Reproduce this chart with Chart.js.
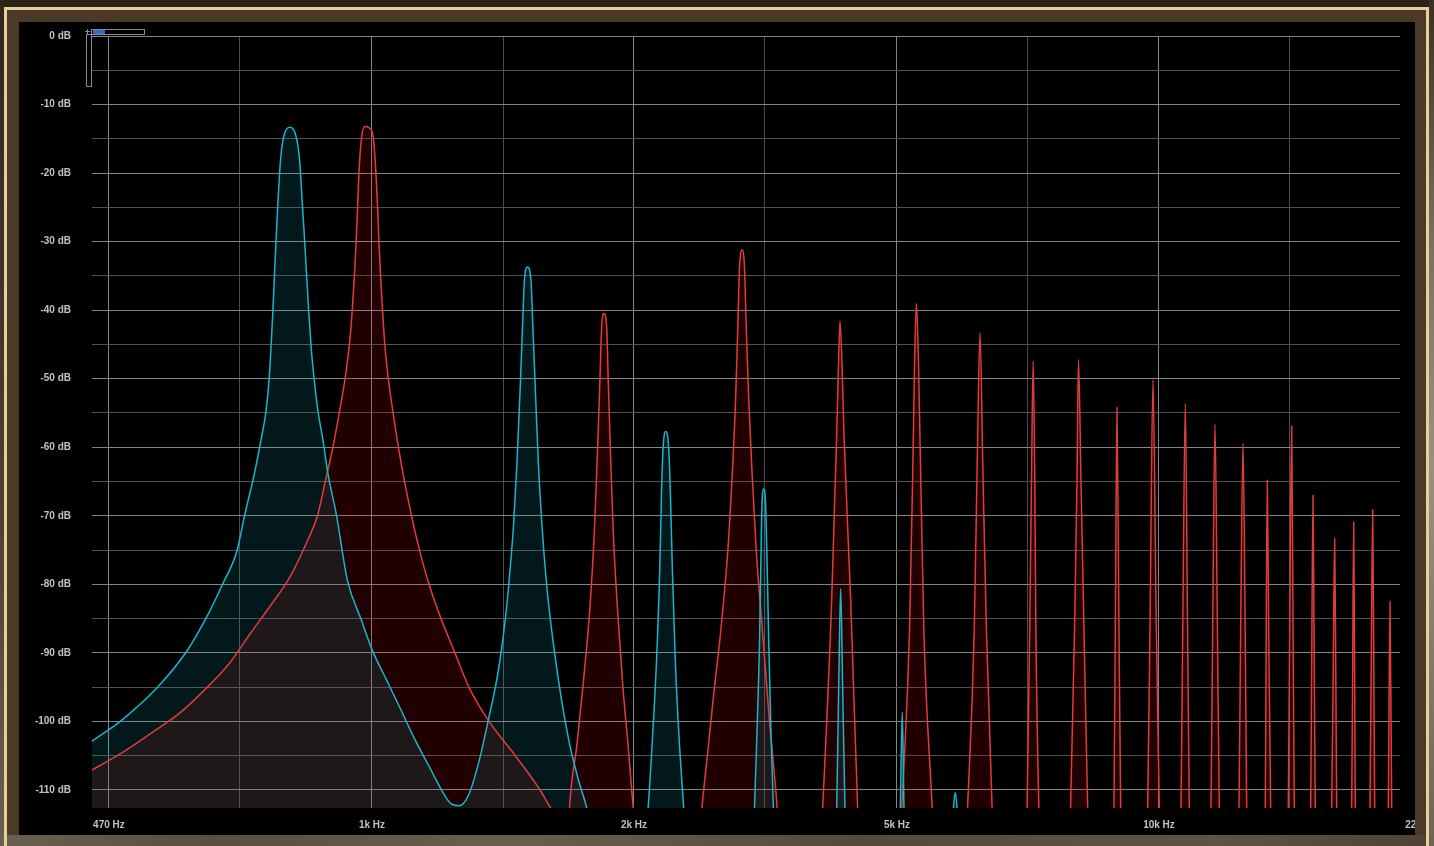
<!DOCTYPE html>
<html><head><meta charset="utf-8">
<script src="https://cdn.jsdelivr.net/npm/chart.js@4.4.1/dist/chart.umd.min.js"></script>
<style>html,body{margin:0;padding:0;background:#3a2e20;overflow:hidden}
#wrap{position:absolute;left:0;top:0;width:1434px;height:846px}</style>
</head><body><div id="wrap"><canvas id="c" width="1434" height="846"></canvas></div>
<script>
// x tick frequencies (Hz) and their labels, minor grid frequencies
const xTickFreqs = [470, 1016, 2190, 4735, 10206, 22000];
const xTickLabels = ['470 Hz', '1k Hz', '2k Hz', '5k Hz', '10k Hz', '22k Hz'];
const xMinorFreqs = [690, 1492, 3215, 6951, 14984];
const yMajorTicks = [0, -10, -20, -30, -40, -50, -60, -70, -80, -90, -100, -110];
const yMinorTicks = [-5, -15, -25, -35, -45, -55, -65, -75, -85, -95, -105];
const freqRange = [447.2, 20686];
const dbRange = [-112.63, 0];

// spectrum A (cyan): [frequency Hz, level dB]
const cyanSpectrum = [
 [447,-102.9],[488,-99.8],[543,-94.9],[590,-89.8],[625,-84.9],[655,-80.1],[684,-75.1],[699,-70.1],
 [720,-63.8],[734,-58.9],[745,-54.6],[752,-49.7],[760,-40.0],[767,-29.8],[777,-18.2],[784,-14.8],
 [798,-13.3],[814,-14.8],[822,-18.2],[828,-24.0],[834,-29.8],[844,-40.0],[850,-45.3],[857,-49.7],
 [867,-54.6],[880,-58.9],[893,-63.8],[916,-70.0],[945,-79.3],[985,-85.2],[1017,-89.6],[1060,-93.9],
 [1106,-98.3],[1153,-102.7],[1202,-106.6],[1253,-110.5],[1281,-112.0],[1313,-112.3],[1349,-110.7],
 [1392,-105.6],[1429,-99.8],[1467,-93.5],[1498,-86.2],[1516,-80.5],[1539,-71.2],[1554,-62.4],
 [1569,-51.4],[1580,-42.1],[1589,-35.5],[1603,-33.7],[1619,-35.5],[1628,-42.1],[1640,-51.4],
 [1655,-62.4],[1672,-71.2],[1697,-80.5],[1730,-88.8],[1772,-97.0],[1816,-103.6],[1861,-108.5],
 [1907,-112.6],[1954,-118],[2229,-125],[2283,-112.6],[2312,-102.5],[2339,-91.5],[2362,-77.8],
 [2374,-66.8],[2385,-60.2],[2404,-57.7],[2425,-60.2],[2437,-66.8],[2451,-77.8],[2473,-91.5],
 [2500,-102.5],[2534,-112.6],[2581,-125],[3059,-125],[3118,-112.6],[3139,-102.5],[3164,-88.8],
 [3179,-75.0],[3188,-67.9],[3204,-66.1],[3220,-67.9],[3233,-75.0],[3252,-88.8],[3274,-102.5],
 [3296,-112.6],[3340,-125],[3913,-125],[3968,-112.6],[3991,-95.0],[4014,-80.6],[4038,-95.0],
 [4065,-112.6],[4113,-125],[4735,-125],[4781,-112.6],[4809,-98.6],[4833,-112.6],[4890,-125],
 [5531,-125],[5588,-112.6],[5617,-110.4],[5645,-112.6],[5712,-125],[20686,-125]
];

// spectrum B (red): [frequency Hz, level dB]
const redSpectrum = [
 [447,-107.1],[488,-104.6],[532,-101.7],[578,-98.8],[622,-95.4],[669,-91.5],[712,-87.1],[758,-82.8],
 [799,-78.9],[842,-73.5],[866,-70.0],[886,-65.0],[906,-60.0],[923,-55.0],[939,-50.0],[951,-45.0],
 [959,-40.0],[965,-35.0],[970,-30.0],[974,-25.0],[978,-20.0],[985,-15.0],[995,-13.2],[1015,-13.8],
 [1020,-14.8],[1028,-20.0],[1033,-25.0],[1037,-30.0],[1042,-35.0],[1048,-40.0],[1055,-45.0],
 [1066,-50.0],[1081,-55.0],[1098,-60.0],[1118,-65.0],[1141,-70.0],[1168,-75.0],[1201,-80.0],
 [1244,-85.0],[1296,-90.0],[1350,-95.0],[1432,-100.0],[1547,-105.0],[1663,-110.0],[1717,-112.7],
 [1753,-114.5],[1794,-125],
 [1813,-112.6],[1852,-103.6],[1888,-94.3],[1925,-83.3],[1950,-72.3],[1967,-61.3],[1982,-50.3],
 [1992,-42.6],[2006,-40.5],[2022,-42.6],[2031,-50.3],[2045,-61.3],[2061,-72.3],[2086,-83.3],
 [2118,-94.3],[2153,-103.6],[2185,-112.6],[2229,-125],[2619,-125],[2673,-112.6],[2721,-104.1],
 [2761,-97.0],[2829,-86.0],[2884,-75.0],[2921,-64.0],[2950,-53.1],[2970,-42.1],[2984,-33.8],
 [3008,-31.2],[3028,-33.8],[3043,-42.1],[3066,-53.1],[3097,-64.0],[3134,-75.0],[3188,-86.0],
 [3257,-99.7],[3332,-112.6],[3380,-125],[3756,-125],[3808,-112.6],[3910,-82.3],[3968,-58.0],
 [3989,-48.0],[4006,-41.6],[4030,-48.0],[4053,-58.0],[4134,-82.3],[4219,-112.6],[4273,-125],
 [4749,-125],[4803,-112.6],[4913,-86.4],[4962,-61.7],[4987,-46.9],[5012,-39.0],[5041,-46.9],
 [5071,-61.7],[5122,-86.4],[5249,-112.6],[5308,-125],[5745,-125],[5822,-112.6],[5939,-86.4],
 [5991,-61.7],[6039,-43.3],[6087,-61.7],[6153,-86.4],[6257,-112.6],[6329,-125],[6870,-125],
 [6933,-112.6],[6988,-86.4],[7023,-65.0],[7058,-47.4],[7091,-65.0],[7114,-86.4],[7177,-112.6],
 [7243,-125],[7793,-125],[7876,-112.6],[7969,-86.4],[8025,-65.0],[8060,-47.2],[8120,-65.0],
 [8191,-86.4],[8281,-112.6],[8361,-125],[8866,-125],[8944,-112.6],[8981,-85],[9023,-54.2],
 [9074,-85],[9122,-112.6],[9184,-125],[9795,-125],[9873,-112.6],[9943,-85],[10028,-50.2],
 [10122,-85],[10215,-112.6],[10296,-125],[10790,-125],[10886,-112.6],[10946,-85],[11024,-53.6],
 [11095,-85],[11154,-112.6],[11242,-125],[11782,-125],[11886,-112.6],[11949,-85],[12026,-56.6],
 [12108,-85],[12179,-112.6],[12276,-125],[12790,-125],[12903,-112.6],[12971,-85],[13055,-59.4],
 [13136,-85],[13198,-112.6],[13287,-125],[13803,-125],[13937,-112.6],[13974,-88],[14019,-64.8],
 [14081,-88],[14159,-112.6],[14255,-125],[14766,-125],[14909,-112.6],[14975,-85],[15059,-56.9],
 [15116,-85],[15174,-112.6],[15294,-125],[15795,-125],[15921,-112.6],[15972,-90],[16028,-67.0],
 [16085,-90],[16137,-112.6],[16265,-125],[16799,-125],[16932,-112.6],[17007,-93],[17081,-73.3],
 [17137,-93],[17182,-112.6],[17298,-125],[17813,-125],[17954,-112.6],[18007,-92],[18060,-70.9],
 [18108,-92],[18145,-112.6],[18289,-125],[18778,-125],[18944,-112.6],[19016,-91],[19094,-69.1],
 [19156,-91],[19206,-112.6],[19336,-125],[19854,-125],[19989,-112.6],[20088,-82.5],[20189,-112.6],
 [20325,-125],[20686,-125]
];

const xAllTicks = xTickFreqs.concat(xMinorFreqs).sort((a,b)=>a-b);
const yAllTicks = yMajorTicks.concat(yMinorTicks).sort((a,b)=>b-a);
const toPts = arr => arr.map(p => ({x: p[0], y: p[1]}));

const framePlugin = {
  id: 'frame',
  beforeDraw(chart) {
    const c = chart.ctx; c.save();
    c.fillStyle = '#000'; c.fillRect(19, 22, 1396, 813);
    c.restore();
  },
  afterDraw(chart) {
    const c = chart.ctx; c.save();
    c.fillStyle = '#2c2218'; c.fillRect(0, 0, 1434, 8);
    const gl = c.createLinearGradient(0, 0, 0, 846);
    gl.addColorStop(0, '#2f251a'); gl.addColorStop(0.6, '#4a3f30'); gl.addColorStop(1, '#6a604f');
    c.fillStyle = gl; c.fillRect(0, 0, 4, 846);
    const gr = c.createLinearGradient(0, 0, 0, 846);
    gr.addColorStop(0, '#3a3024'); gr.addColorStop(0.3, '#7d7262'); gr.addColorStop(0.55, '#9a907f'); gr.addColorStop(1, '#6e6454');
    c.fillStyle = gr; c.fillRect(1429, 0, 5, 846);
    c.fillStyle = '#4a3a27';
    c.fillRect(7, 10, 1419, 12);
    c.fillRect(7, 10, 12, 836);
    c.fillRect(1415, 10, 11, 836);
    const gb = c.createLinearGradient(0, 0, 1434, 0);
    gb.addColorStop(0, '#6b604e'); gb.addColorStop(0.15, '#5a4f3f'); gb.addColorStop(0.35, '#6a5f4d');
    gb.addColorStop(0.6, '#564b3b'); gb.addColorStop(0.85, '#5f5444'); gb.addColorStop(1, '#4e4333');
    c.fillStyle = gb; c.fillRect(7, 835, 1419, 11);
    c.fillStyle = '#e8cf9c';
    c.fillRect(4, 7, 1425, 3);
    c.fillRect(4, 7, 3, 839);
    c.fillRect(1426, 7, 3, 839);
    c.strokeStyle = '#8a8a8a'; c.lineWidth = 1;
    c.strokeRect(86.5, 34.5, 5, 52);
    c.strokeRect(91.5, 29.5, 53, 5);
    c.fillStyle = '#2f6fc0'; c.fillRect(93, 30, 12, 4);
    c.beginPath(); c.moveTo(85, 31.5); c.lineTo(90, 31.5); c.moveTo(87.5, 29); c.lineTo(87.5, 34); c.stroke();
    c.restore();
  }
};

const labelFont = {family: "'Liberation Sans', Arial, sans-serif", size: 10, weight: 'bold'};

new Chart(document.getElementById('c'), {
  type: 'line',
  data: {
    datasets: [
      {label: 'A', data: toPts(cyanSpectrum), borderColor: '#1cb4ca', backgroundColor: 'rgba(26,185,205,0.13)',
       fill: 'start', borderWidth: 1.5, pointRadius: 0, cubicInterpolationMode: 'monotone', clip: 0},
      {label: 'B', data: toPts(redSpectrum), borderColor: '#e13c3c', backgroundColor: 'rgba(255,0,0,0.125)',
       fill: 'start', borderWidth: 1.5, pointRadius: 0, cubicInterpolationMode: 'monotone', clip: 0}
    ]
  },
  options: {
    responsive: false, animation: false, devicePixelRatio: 1, events: [],
    layout: {padding: {left: 0, top: 36, right: 34, bottom: 0}},
    plugins: {legend: {display: false}, tooltip: {enabled: false}, filler: {drawTime: 'beforeDatasetsDraw'}},
    scales: {
      x: {
        type: 'logarithmic', min: freqRange[0], max: freqRange[1],
        border: {display: false},
        afterBuildTicks: s => { s.ticks = xAllTicks.map(v => ({value: v})); },
        afterFit: s => { s.height = 38; s.paddingLeft = 0; s.paddingRight = 0; },
        grid: {drawTicks: false, lineWidth: 1,
               color: ctx => (ctx.tick && xTickFreqs.includes(ctx.tick.value)) ? '#858585' : '#4c4c4c'},
        ticks: {autoSkip: false, maxRotation: 0, minRotation: 0, padding: 11, color: '#bfc3c9', font: labelFont,
                callback: (v, i) => { const k = xTickFreqs.indexOf(xAllTicks[i]); return k >= 0 ? xTickLabels[k] : ''; }}
      },
      y: {
        type: 'linear', min: dbRange[0], max: dbRange[1],
        border: {display: false},
        afterBuildTicks: s => { s.ticks = yAllTicks.map(v => ({value: v})); },
        afterFit: s => { s.width = 92; s.paddingTop = 0; s.paddingBottom = 0; },
        grid: {drawTicks: false, lineWidth: 1,
               color: ctx => (ctx.tick && yMajorTicks.includes(ctx.tick.value)) ? '#858585' : '#505050'},
        ticks: {autoSkip: false, padding: 21, color: '#bfc3c9', font: labelFont,
                callback: v => yMajorTicks.includes(v) ? (v + ' dB') : ''}
      }
    }
  },
  plugins: [framePlugin]
});
</script></body></html>
